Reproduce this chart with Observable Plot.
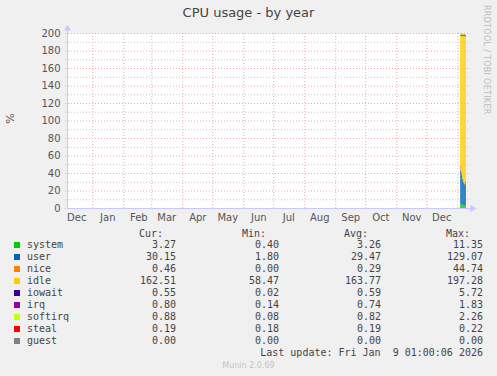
<!DOCTYPE html>
<html><head><meta charset="utf-8">
<script src="https://cdn.jsdelivr.net/npm/d3@7"></script>
<script src="https://cdn.jsdelivr.net/npm/@observablehq/plot@0.6"></script>
<style>
html,body{margin:0;padding:0;background:#f0f0f0;}
#wrap{position:relative;width:497px;height:376px;overflow:hidden;background:#f0f0f0;font-family:"DejaVu Sans",sans-serif;}
#wrap svg{position:absolute;left:0;top:0;}
.abs{position:absolute;white-space:pre;}
.mono{font-family:"DejaVu Sans Mono",monospace;font-size:10px;color:#444;line-height:12px;}
</style></head>
<body><div id="wrap"></div>
<script>
// ---- data ----
const series = ["system","user","nice","idle","iowait","irq","softirq","steal","guest"];
const colors = ["#00CC00","#0066B3","#FF8000","#FFCC00","#330099","#990099","#CCFF00","#FF0000","#808080"];
const days = ["2026-01-04","2026-01-05","2026-01-06","2026-01-07","2026-01-08","2026-01-09"];
const system  = [4.5, 4.0, 3.5, 3.0, 3.0, 3.3];
const user    = [38, 34, 29, 26, 24, 27];
const nice    = [6.0, 3.0, 1.0, 0.5, 0.3, 0.5];
const idle    = [148, 156, 163, 167, 169, 165.5];
const iowait  = [0.6, 0.6, 0.6, 0.6, 0.6, 0.55];
const irq     = [0.8, 0.8, 0.8, 0.8, 0.8, 0.8];
const softirq = [0.9, 0.9, 0.9, 0.9, 0.9, 0.88];
const steal   = [0.2, 0.2, 0.2, 0.2, 0.2, 0.19];
const guest   = [0, 0, 0, 0, 0, 0];
const cur = ["3.27","30.15","0.46","162.51","0.55","0.80","0.88","0.19","0.00"];
const min = ["0.40","1.80","0.00","58.47","0.02","0.14","0.08","0.18","0.00"];
const avg = ["3.26","29.47","0.29","163.77","0.59","0.74","0.82","0.19","0.00"];
const max = ["11.35","129.07","44.74","197.28","5.72","1.83","2.26","0.22","0.00"];
const yTicks = [0,20,40,60,80,100,120,140,160,180,200];
const yMinor = [10,30,50,70,90,110,130,150,170,190];
const xStart = new Date("2024-12-06T17:00:00Z");
const xEnd = new Date("2026-01-09T17:00:00Z");
const lastUpdate = "Last update: Fri Jan  9 01:00:06 2026";

const values = {system,user,nice,idle,iowait,irq,softirq,steal,guest};
const rows = [];
series.forEach(s => days.forEach((d,i) => rows.push({series:s, date:new Date(d+"T00:00:00Z"), value:values[s][i]})));

const monthStarts = d3.utcMonth.range(d3.utcMonth.ceil(xStart), xEnd);
const monthMids = d3.utcMonth.range(d3.utcMonth.floor(xStart), xEnd).map(m => d3.utcDay.offset(m, 15)).filter(d => d >= xStart && d <= xEnd);

const chart = Plot.plot({
  width: 497, height: 225,
  marginLeft: 67, marginRight: 31, marginTop: 33, marginBottom: 17,
  style: {background: "transparent", fontFamily: "DejaVu Sans, sans-serif", fontSize: "10px", color: "#555"},
  x: {type: "utc", domain: [xStart, xEnd], ticks: monthMids, tickFormat: d3.utcFormat("%b"), tickSize: 0, tickPadding: 5, label: null},
  y: {domain: [0, 200], ticks: yTicks, tickSize: 0, tickPadding: 7, label: null},
  color: {domain: series, range: colors},
  marks: [
    Plot.frame({fill: "white", stroke: null}),
    Plot.ruleY(yMinor, {stroke: "#c8c8c8", strokeDasharray: "1,2", insetLeft: -2, insetRight: -3}),
    Plot.ruleY(yTicks, {stroke: "#f0a8a8", strokeDasharray: "1,2", insetLeft: -2, insetRight: -3}),
    Plot.ruleX(monthStarts, {stroke: "#f0a8a8", strokeDasharray: "1,2"}),
    Plot.rectY(rows, {x1: "date", x2: d => d3.utcDay.offset(d.date, 1), y: "value", fill: "series", order: series, clip: true}),
    Plot.ruleX([xStart], {stroke: "#c8c8ff", insetTop: -5}),
    Plot.ruleY([0], {stroke: "#c8c8ff", insetRight: -6}),
    Plot.dot({length: 1}, {frameAnchor: "top-left", symbol: "triangle", r: 2.6, fill: "#c8c8ff", stroke: null, dy: -5}),
    Plot.dot({length: 1}, {frameAnchor: "bottom-right", symbol: "triangle", r: 2.6, fill: "#c8c8ff", stroke: null, rotate: 90, dx: 6})
  ]
});
const wrap = document.getElementById("wrap");
wrap.appendChild(chart);

function addText(txt, css, cls) {
  const el = document.createElement("div");
  el.className = "abs " + (cls || "");
  el.textContent = txt;
  Object.assign(el.style, css);
  wrap.appendChild(el);
  return el;
}
addText("CPU usage - by year", {left: "0px", width: "497px", textAlign: "center", top: "5px", fontSize: "13px", color: "#444"});
addText("RRDTOOL / TOBI OETIKER", {left: "482px", top: "5px", fontSize: "8px", color: "#bbb", writingMode: "vertical-rl", letterSpacing: "0.3px"});
addText("%", {left: "2px", top: "112px", fontSize: "11px", color: "#555", transform: "rotate(-90deg)", transformOrigin: "center", width: "16px", textAlign: "center"});

const colRight = [176, 279, 381, 483];
const headers = ["Cur:","Min:","Avg:","Max:"];
headers.forEach((h,i) => addText(h, {right: (497 - colRight[i] + 13) + "px", top: "228px"}, "mono"));
series.forEach((s,i) => {
  const top = 239 + i*12;
  const sw = document.createElement("div");
  Object.assign(sw.style, {position:"absolute", left:"14px", top:(top+3)+"px", width:"6px", height:"6px", background: colors[i]});
  wrap.appendChild(sw);
  addText(s, {left: "27px", top: top+"px"}, "mono");
  [cur,min,avg,max].forEach((arr,j) => addText(arr[i], {right: (497 - colRight[j]) + "px", top: top+"px"}, "mono"));
});
addText(lastUpdate, {right: (497-483)+"px", top: "347px"}, "mono");
addText("Munin 2.0.69", {left: "0px", width: "497px", textAlign: "center", top: "361px", fontSize: "8px", color: "#c4c4c4"});
</script></body></html>
